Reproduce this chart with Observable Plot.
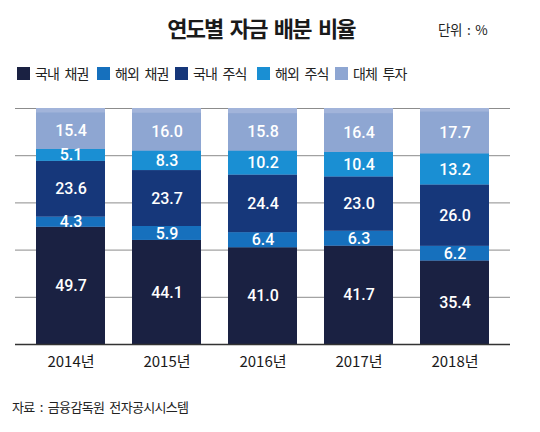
<!DOCTYPE html>
<html>
<head>
<meta charset="utf-8">
<script src="https://cdn.jsdelivr.net/npm/d3@7"></script>
<script src="https://cdn.jsdelivr.net/npm/@observablehq/plot@0.6"></script>
<style>
  body { margin: 0; background: #fff; font-family: "Noto Sans CJK KR", "Noto Sans", sans-serif; }
  #wrap { position: relative; width: 540px; height: 432px; overflow: hidden; background: #fff; }
  .abs { position: absolute; white-space: nowrap; color: #222; }
  #title { top: 11px; left: 0; width: 522px; text-align: center; font-size: 22px; font-weight: 700; letter-spacing: -1.8px; word-spacing: 4px; color: #1a1a1a; }
  #unit { top: 19px; left: 438px; font-size: 13.5px; letter-spacing: -0.3px; word-spacing: 2px; }
  .lg { top: 63px; font-size: 14px; letter-spacing: -0.8px; word-spacing: 3px; display: flex; align-items: center; }
  .sw { width: 13px; height: 13px; margin-right: 5px; display: inline-block; }
  #chart { position: absolute; top: 90px; left: 0; }
  #caption { top: 397px; left: 12px; font-size: 13px; letter-spacing: -0.7px; word-spacing: 3px; }
</style>
</head>
<body>
<div id="wrap">
  <div id="title" class="abs">연도별 자금 배분 비율</div>
  <div id="unit" class="abs">단위 : %</div>
  <div id="legend"></div>
  <div id="chart"></div>
  <div id="caption" class="abs">자료 : 금융감독원 전자공시시스템</div>
</div>
<script>
const years = ["2014년", "2015년", "2016년", "2017년", "2018년"];
const seriesNames = ["국내 채권", "해외 채권", "국내 주식", "해외 주식", "대체 투자"];
const seriesColors = ["#1a2142", "#1670bd", "#16377a", "#1a8fd3", "#8ea6d2"];
const domesticBonds = [49.7, 44.1, 41.0, 41.7, 35.4];
const foreignBonds = [4.3, 5.9, 6.4, 6.3, 6.2];
const domesticStocks = [23.6, 23.7, 24.4, 23.0, 26.0];
const foreignStocks = [5.1, 8.3, 10.2, 10.4, 13.2];
const alternatives = [15.4, 16.0, 15.8, 16.4, 17.7];
const totals = [100, 100, 100, 100, 100];
const gridTicks = [20, 40, 60, 80, 100];
const legendX = [17, 97, 175, 257, 335];

// legend
const legend = document.getElementById("legend");
seriesNames.forEach((name, i) => {
  const el = document.createElement("div");
  el.className = "abs lg";
  el.style.left = legendX[i] + "px";
  el.innerHTML = `<span class="sw" style="background:${seriesColors[i]}"></span>${name}`;
  legend.appendChild(el);
});

const seriesValues = [domesticBonds, foreignBonds, domesticStocks, foreignStocks, alternatives];
const data = [];
seriesNames.forEach((s, si) => {
  years.forEach((y, yi) => data.push({year: y, series: s, value: seriesValues[si][yi]}));
});
const totalData = years.map((y, i) => ({year: y, value: totals[i]}));

const stackOpts = {x: "year", y: "value", z: "series", order: seriesNames};

const chart = Plot.plot({
  width: 540,
  height: 292,
  marginTop: 18,
  marginBottom: 38,
  marginLeft: 15,
  marginRight: 30,
  style: {fontFamily: "'Noto Sans CJK KR', sans-serif", background: "transparent"},
  x: {domain: years, paddingInner: 0.28, paddingOuter: 0.218, label: null},
  y: {domain: [0, 100], axis: null},
  color: {domain: seriesNames, range: seriesColors},
  marks: [
    Plot.ruleY(gridTicks, {stroke: "#8c8c8c", strokeWidth: 1}),
    Plot.barY(totalData, {x: "year", y: "value", fill: "#a2b4da"}),
    Plot.barY(data, Plot.stackY({...stackOpts, fill: "series"})),
    Plot.text(data, Plot.stackY({...stackOpts, text: d => d.value.toFixed(1), fill: "white", fontSize: 16, fontWeight: 500, fontFamily: "Roboto, sans-serif"})),
    Plot.ruleY([0], {stroke: "#333", strokeWidth: 1.5}),
    Plot.axisX({tickSize: 0, tickPadding: 12, fontSize: 15, fill: "#1a1a1a", label: null, letterSpacing: "-0.6px"})
  ]
});
document.getElementById("chart").appendChild(chart);
</script>
</body>
</html>
